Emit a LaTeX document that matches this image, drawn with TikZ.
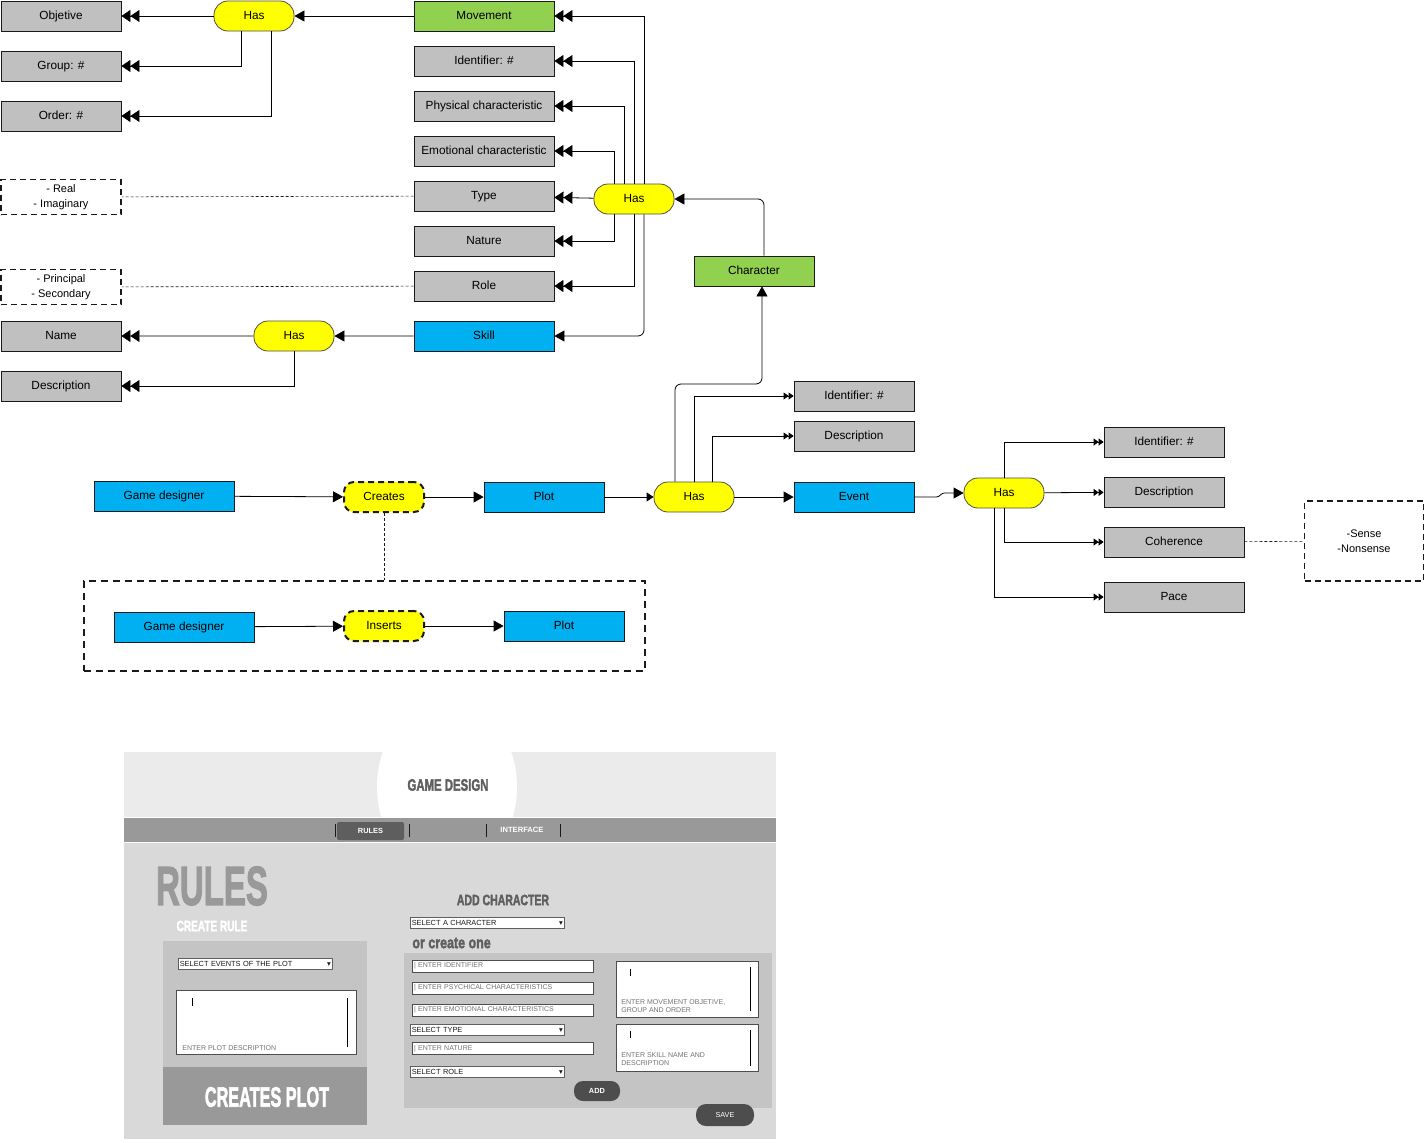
\documentclass[tikz,border=0pt]{standalone}
\usepackage{fontspec}
\usepackage{graphicx}
\setmainfont{Liberation Sans}
\newfontfamily\symfont{DejaVu Sans}
\newfontfamily\heavyfont{Liberation Sans}[FakeBold=2.5]
\usetikzlibrary{arrows.meta,positioning,calc}
\definecolor{ink}{HTML}{1A1A1A}
\definecolor{rim}{HTML}{4D4D4D}
\definecolor{attr}{HTML}{C0C0C0}
\definecolor{leaf}{HTML}{92D050}
\definecolor{agent}{HTML}{00B0F0}
\definecolor{verb}{HTML}{FFFF00}
\definecolor{head}{HTML}{EBEBEB}
\definecolor{nav}{HTML}{999999}
\definecolor{tab}{HTML}{5E5E5E}
\definecolor{body}{HTML}{D9D9D9}
\definecolor{pane}{HTML}{C4C4C4}
\definecolor{btn}{HTML}{4D4D4D}
\definecolor{hint}{HTML}{747474}
\definecolor{heading}{HTML}{5F5F5F}
\newcommand\narrowtext[3]{\fontsize{#2}{#2}\selectfont\scalebox{#1}[1]{\heavyfont\bfseries #3}}
\tikzset{
  every picture/.style={x=1pt, y=-1pt, line width=0.8pt, font=\fontsize{11.8}{13.5}\selectfont},
  attrbox/.style={draw=ink, fill=attr, minimum width=120pt, minimum height=30pt, inner sep=2pt, text height=8.6pt, text depth=2.4pt},
  wide/.style={minimum width=140pt},
  leafbox/.style={attrbox, fill=leaf},
  agentbox/.style={attrbox, fill=agent},
  rel/.style={draw=rim, fill=verb, rounded corners=14pt, minimum width=80pt, minimum height=30pt, inner sep=2pt, text height=8.6pt, text depth=2.4pt},
  relx/.style={rel, draw=ink, line width=2pt, dash pattern=on 6pt off 4pt, rounded corners=10pt},
  opts/.style={draw=ink, line width=1.8pt, dash pattern=on 6pt off 4pt, minimum width=120pt, minimum height=35pt, align=center, font=\fontsize{11}{15}\selectfont},
  link/.style={draw=ink, line width=0.6pt, dash pattern=on 3pt off 2pt},
  flow/.style={-{Triangle[length=10pt, width=11pt]}},
  flowsm/.style={-{Triangle[length=7pt, width=9pt]}},
  many/.style={-{Triangle[length=9pt, width=12pt, sep=0pt]Triangle[length=9pt, width=12pt]}},
  manysm/.style={-{Triangle[length=5pt, width=7pt, sep=0pt]Triangle[length=5pt, width=7pt]}},
  entry/.style={draw=rim, fill=white, line width=1pt, minimum height=12pt, text width=177pt, inner sep=2pt, align=left, text=hint, font=\fontsize{7}{7}\selectfont},
  pick/.style={draw=ink!70, fill=white, line width=0.6pt, minimum height=11pt, text width=151pt, inner sep=1.5pt, align=left, text=ink, font=\fontsize{7.4}{7}\selectfont},
  pad/.style={draw=rim, fill=white, line width=1pt},
  padhint/.style={text=hint, align=left, anchor=south west, inner sep=0pt, font=\fontsize{7}{8}\selectfont},
  knob/.style={fill=btn, rounded corners=9pt, text=white, inner sep=0pt, font=\fontsize{7.2}{7}\selectfont},
}
\begin{document}
\begin{tikzpicture}
\useasboundingbox (0,0) rectangle (1427,1143);
% character attributes
\node[leafbox, wide] (move) at (484,16) {Movement};
\node[attrbox, wide, below=14.2pt of move] (ident) {Identifier: \#};
\node[attrbox, wide, below=14.2pt of ident] (phys) {Physical characteristic};
\node[attrbox, wide, below=14.2pt of phys] (emo) {Emotional characteristic};
\node[attrbox, wide, below=14.2pt of emo] (type) {Type};
\node[attrbox, wide, below=14.2pt of type] (nature) {Nature};
\node[attrbox, wide, below=14.2pt of nature] (role) {Role};
\node[agentbox, wide, below=19.2pt of role] (skill) {Skill};
\node[attrbox] (objetive) at (61,16) {Objetive};
\node[attrbox, below=19.2pt of objetive] (group) {Group: \#};
\node[attrbox, below=19.2pt of group] (order) {Order: \#};
\node[opts] (kinds) at ([yshift=-1pt]objetive |- type) {- Real\\- Imaginary};
\node[opts] (ranks) at ([yshift=-1pt]objetive |- role) {- Principal\\- Secondary};
\node[attrbox] (name) at (objetive |- skill) {Name};
\node[attrbox, below=19.2pt of name] (descr) {Description};
\node[rel] (hasmove) at (254,16) {Has};
\node[rel] (haschar) at (634,199) {Has};
\node[rel] (hasskill) at (294,336) {Has};
\node[leafbox] (char) at (754,271) {Character};
\draw[flow] (move) -- (hasmove);
\draw[many] (hasmove) -- (objetive);
\draw[many] ([xshift=-13pt]hasmove.south) |- (group);
\draw[many] ([xshift=17pt]hasmove.south) |- (order);
\draw[many] ([xshift=10pt]haschar.north) |- (move);
\draw[many] (haschar.north) |- (ident);
\draw[many] ([xshift=-10pt]haschar.north) |- (phys);
\draw[many] ([xshift=-20pt]haschar.north) |- (emo);
\draw[many] (haschar) -- (type);
\draw[many] ([xshift=-20pt]haschar.south) |- (nature);
\draw[many] (haschar.south) |- (role);
\draw[flow, rounded corners=6pt] ([xshift=10pt]haschar.south) |- (skill);
\draw[flow, rounded corners=6pt] ([xshift=10pt]char.north) |- (haschar);
\draw[link] (type) -- (kinds);
\draw[link] (role) -- (ranks);
\draw[flow] (skill) -- (hasskill);
\draw[many] (hasskill) -- (name);
\draw[many] (hasskill.south) |- (descr);
% plot and events
\node[agentbox, wide] (designer) at (164,496) {Game designer};
\node[relx] (creates) at (384,497) {Creates};
\node[agentbox] (plot) at (544,497) {Plot};
\node[rel] (hasplot) at (694,497) {Has};
\node[agentbox] (event) at (854,497) {Event};
\node[rel] (hasevent) at (1004,493) {Has};
\node[attrbox] (plotid) at (854,396) {Identifier: \#};
\node[attrbox] (plotdesc) at (854,436) {Description};
\node[attrbox] (eventid) at (1164,442) {Identifier: \#};
\node[attrbox] (eventdesc) at (1164,492) {Description};
\node[attrbox, wide] (coher) at (1174,542) {Coherence};
\node[attrbox, wide] (pace) at (1174,597) {Pace};
\node[opts, minimum width=119pt, minimum height=80pt] (sense) at (1364,541) {-Sense\\-Nonsense};
\coordinate (bend) at (762,384);
\draw[flow] (designer) -- (creates);
\draw[flow] (creates) -- (plot);
\draw[flowsm] (plot) -- (hasplot);
\draw[flow] (hasplot) -- (event);
\draw[flow] (event.east) -- ++(22,0) to[out=0, in=180] ++(8,-4) -- (hasevent);
\draw[flow, rounded corners=6pt] ([xshift=-19pt]hasplot.north) |- (bend) -- (bend |- char.south);
\draw[manysm] (hasplot.north) |- (plotid);
\draw[manysm] ([xshift=18pt]hasplot.north) |- (plotdesc);
\draw[manysm] (hasevent.north) |- (eventid);
\draw[manysm] (hasevent) -- (eventdesc);
\draw[manysm] (hasevent.south) |- (coher);
\draw[manysm] ([xshift=-10pt]hasevent.south) |- (pace);
\draw[link] (coher) -- (sense);
% inserted plot
\node[draw=ink, line width=2pt, dash pattern=on 7pt off 5pt, minimum width=561pt, minimum height=90pt] (insert) at (364.5,626) {};
\node[agentbox, wide] (designer2) at (184,627) {Game designer};
\node[relx] (inserts) at (384,626) {Inserts};
\node[agentbox] (plot2) at (564,626) {Plot};
\draw[link] (creates) -- (insert.north -| creates);
\draw[flow] (designer2) -- (inserts);
\draw[flow] (inserts) -- (plot2);
% rules screen
\fill[body] (124,752) rectangle (776,1139);
\fill[head] (124,752) rectangle (776,817);
\begin{scope}
  \clip (124,752) rectangle (776,817);
  \fill[white] (447,787) ellipse [x radius=70, y radius=88];
\end{scope}
\fill[nav] (124,818) rectangle (776,842);
\draw[white, line width=1pt] (124,817.5) -- (776,817.5) (124,842.5) -- (776,842.5);
\fill[tab, rounded corners=2pt] (337,822) rectangle (404,840);
\foreach \x in {335,409,486,560} \draw[ink, line width=1pt] (\x,824) -- (\x,837);
\node[text=white, font=\bfseries\fontsize{7.4}{8}\selectfont] (tabrules) at (370.5,831) {RULES};
\node[text=white, font=\bfseries\fontsize{7.6}{8}\selectfont] (tabiface) at (522,830) {INTERFACE};
\node[text=heading] (gamedesign) at (448,785) {\narrowtext{0.69}{16.5}{GAME DESIGN}};
\node[text=nav] (rulesbig) at (212,886) {\narrowtext{0.6}{55}{RULES}};
\node[text=white] (createrule) at (212,926) {\narrowtext{0.67}{15}{CREATE RULE}};
\fill[pane] (163,941) rectangle (367,1067);
\fill[nav] (163,1067) rectangle (367,1125);
\node[text=white] (createsplot) at (267,1097) {\narrowtext{0.58}{28}{CREATES PLOT}};
\node[pick, anchor=west] (selevents) at (178,963.5) {SELECT EVENTS OF THE PLOT\hfill{\symfont ▾}};
\draw[pad] (176,990) rectangle (356,1054);
\draw (192,998) -- (192,1006) (347,998) -- (347,1047);
\node[padhint] (plothint) at (182,1051) {ENTER PLOT DESCRIPTION};
\node[text=heading] (addchar) at (503,900) {\narrowtext{0.7}{15}{ADD CHARACTER}};
\node[pick, anchor=west] (selchar) at (410,922.5) {SELECT A CHARACTER\hfill{\symfont ▾}};
\node[text=heading, anchor=west, inner sep=0pt] (createone) at (412,943) {\narrowtext{0.78}{16}{or create one}};
\fill[pane] (404,953) rectangle (772,1108);
\foreach \y/\t in {966/ENTER IDENTIFIER, 988/ENTER PSYCHICAL CHARACTERISTICS, 1010/ENTER EMOTIONAL CHARACTERISTICS, 1048.5/ENTER NATURE}
  \node[entry] (in\y) at (502.5,\y) {|\ \t};
\node[pick, anchor=west] (seltype) at (410,1029.5) {SELECT TYPE\hfill{\symfont ▾}};
\node[pick, anchor=west] (selrole) at (410,1071.5) {SELECT ROLE\hfill{\symfont ▾}};
\draw[pad] (616,961) rectangle (758,1017);
\draw (630,969) -- (630,976) (750,967) -- (750,1011);
\node[padhint] (movehint) at (621,1013) {ENTER MOVEMENT OBJETIVE,\\GROUP AND ORDER};
\draw[pad] (616,1024) rectangle (758,1071);
\draw (630,1031) -- (630,1038) (750,1030) -- (750,1066);
\node[padhint] (skillhint) at (621,1066) {ENTER SKILL NAME AND\\DESCRIPTION};
\node[knob, minimum width=46pt, minimum height=20pt, font=\bfseries\fontsize{7.4}{7}\selectfont] (addbtn) at (597,1091) {ADD};
\node[knob, minimum width=58pt, minimum height=22pt, rounded corners=10pt] (savebtn) at (725,1115) {SAVE};
\end{tikzpicture}
\end{document}
